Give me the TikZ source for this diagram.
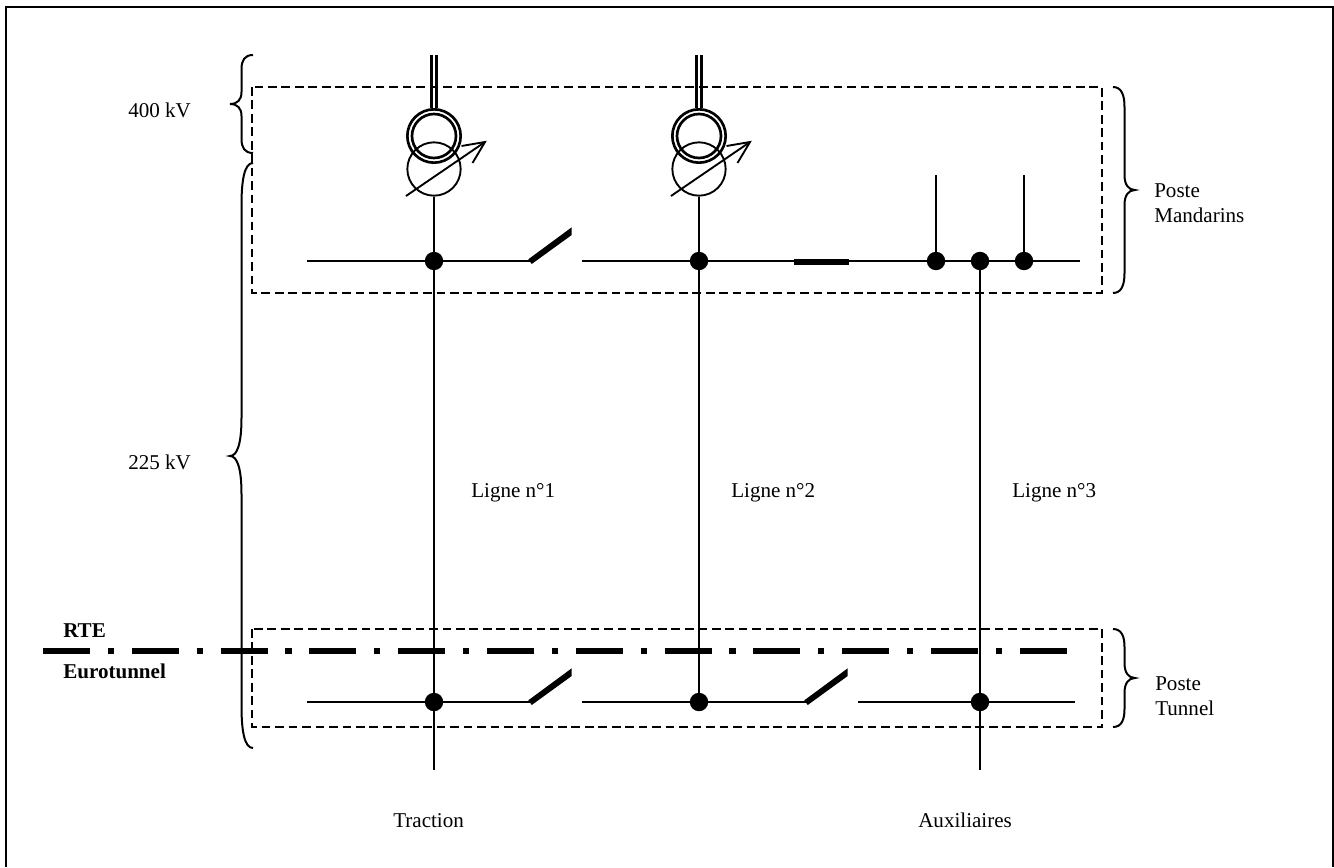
\documentclass[tikz,border=0pt]{standalone}
\usepackage{fontspec}
\setmainfont{Liberation Serif}
\tikzset{
  x=0.75pt,y=-0.75pt,
  lbl/.style={inner sep=0pt,font=\fontsize{15.8pt}{18.75pt}\selectfont,align=left,anchor=base west},
  boldlbl/.style={lbl,font=\fontsize{15.8pt}{18.75pt}\selectfont\bfseries},
  wire/.style={line width=1.4pt},
  dot/.style={circle,fill=black,draw=none,minimum size=13.8pt,inner sep=0pt},
  box/.style={line width=1.05pt,dash pattern=on 6.5pt off 3.6pt},
  brace/.style={line width=1.5pt},
  frontier/.style={line width=4.7pt,dash pattern=on 35.2pt off 13.4pt on 4.6pt off 13.4pt},
  coil/.style={draw,circle,line width=1.4pt,inner sep=0pt},
  blade/.style={fill=black},
}
% xend spine tip ytop ymid ybot radius flare
\newcommand{\bracel}[8]{%
  \draw[brace] (#1,#4) .. controls (#2+3,#4) and (#2,#4+#7*.4) .. (#2,#4+#7)
    -- (#2,#5-#8) .. controls (#2,#5-#8*.35) and (#2-4,#5) .. (#3,#5)
    .. controls (#2-4,#5) and (#2,#5+#8*.35) .. (#2,#5+#8)
    -- (#2,#6-#7) .. controls (#2,#6-#7*.4) and (#2+3,#6) .. (#1,#6);}
\newcommand{\bracer}[8]{%
  \draw[brace] (#1,#4) .. controls (#2-3,#4) and (#2,#4+#7*.4) .. (#2,#4+#7)
    -- (#2,#5-#8) .. controls (#2,#5-#8*.35) and (#2+4,#5) .. (#3,#5)
    .. controls (#2+4,#5) and (#2,#5+#8*.35) .. (#2,#5+#8)
    -- (#2,#6-#7) .. controls (#2,#6-#7*.4) and (#2-3,#6) .. (#1,#6);}
\newcommand{\bladeat}[2]{\fill[blade] (#1-1.7,#2-1.7) -- (#1+41.7,#2-33.7) -- (#1+41.7,#2-26) -- (#1+1.7,#2+3) -- cycle;}
\begin{document}
\begin{tikzpicture}
\useasboundingbox (0,0) rectangle (1334,867);
\fill[white] (0,0) rectangle (1334,867);
\draw[line width=1.5pt] (5.5,867) -- (5.5,7) -- (1333,7) -- (1333,867);
% boxes
\draw[box] (252,87) rectangle (1102,293);
\draw[box] (252,629) rectangle (1102,727);
% frontier
\coordinate (fa) at (43,651);
\coordinate (fb) at (1067,651);
\draw[frontier] (fa) -- (fb);
% dots
\node[dot] (d1) at (434,261) {};
\node[dot] (d2) at (699,261) {};
\node[dot] (d3) at (936,261) {};
\node[dot] (d4) at (980,261) {};
\node[dot] (d5) at (1024,261) {};
\node[dot] (e1) at (434,702) {};
\node[dot] (e2) at (699,702) {};
\node[dot] (e3) at (980,702) {};
% transformers
\foreach \n/\cx in {a/434,b/699}{
  \node[coil,minimum size=40pt] (\n low) at (\cx,169) {};
  \node[coil,minimum size=40pt,line width=2pt] (\n out) at (\cx,136) {};
  \node[coil,minimum size=33pt,line width=2pt] (\n in) at (\cx,136) {};
  \coordinate (\n t1) at (\cx-2.3,55);
  \coordinate (\n t2) at (\cx+2.7,55);
  \draw[line width=1.9pt] (\n t1) -- (\n t1 |- \n out.north);
  \draw[line width=1.9pt] (\n t2) -- (\n t2 |- \n out.north);
  \coordinate (\n s) at (\cx-28,196);
  \coordinate (\n e) at (\cx+51,142);
  \coordinate (\n h1) at (\cx+38.5,163);
  \coordinate (\n h2) at (\cx+27.5,146);
  \draw[wire] (\n s) -- (\n e);
  \draw[wire] (\n h1) -- (\n e) -- (\n h2);
}
\draw[wire] (alow.south) -- (d1);
\draw[wire] (blow.south) -- (d2);
% upper buses
\coordinate (b1a) at (307,261);
\coordinate (s1a) at (530,261);
\draw[wire] (b1a) -- (d1) -- (s1a);
\bladeat{530}{261}
\coordinate (b2a) at (582,261);
\coordinate (b2b) at (1080,261);
\draw[wire] (b2a) -- (d2) -- (d3) -- (d4) -- (d5) -- (b2b);
\coordinate (t1) at (794,262);
\coordinate (t2) at (849,262);
\draw[line width=4.2pt] (t1) -- (t2);
\coordinate (v3) at (936,175);
\coordinate (v5) at (1024,175);
\draw[wire] (v3) -- (d3);
\draw[wire] (v5) -- (d5);
% lines
\coordinate (l1) at (434,770);
\coordinate (l3) at (980,770);
\draw[wire] (d1) -- (e1) -- (l1);
\draw[wire] (d2) -- (e2);
\draw[wire] (d4) -- (e3) -- (l3);
% lower buses
\coordinate (c1a) at (307,702);
\coordinate (w1a) at (530,702);
\draw[wire] (c1a) -- (e1) -- (w1a);
\bladeat{530}{702}
\coordinate (c2a) at (582,702);
\coordinate (w2a) at (806,702);
\draw[wire] (c2a) -- (e2) -- (w2a);
\bladeat{806}{702}
\coordinate (c3a) at (858,702);
\coordinate (c3b) at (1075,702);
\draw[wire] (c3a) -- (e3) -- (c3b);
% braces
\bracel{253}{241.5}{230}{55}{104}{153}{14}{12}
\bracel{253}{241.5}{230}{163}{456}{748}{42}{38}
\bracer{1113}{1124.5}{1135}{87}{190}{293}{20}{15}
\bracer{1113}{1124.5}{1135}{629}{678}{727}{18}{15}
% labels
\node[lbl] (n400) at (128,117) {400 kV};
\node[lbl] (n225) at (128,469) {225 kV};
\node[lbl,anchor=north west] (nm) at (1154,183) {Poste\\Mandarins};
\node[lbl,anchor=north west] (nt) at (1155,676) {Poste\\Tunnel};
\node[lbl] (nl1) at (471,497) {Ligne n°1};
\node[lbl] (nl2) at (731,497) {Ligne n°2};
\node[lbl] (nl3) at (1012,497) {Ligne n°3};
\node[boldlbl] (nrte) at (63,637) {RTE};
\node[boldlbl] (neu) at (63,678) {Eurotunnel};
\node[lbl] (ntr) at (393,827) {Traction};
\node[lbl] (nau) at (918,827) {Auxiliaires};
\end{tikzpicture}
\end{document}
